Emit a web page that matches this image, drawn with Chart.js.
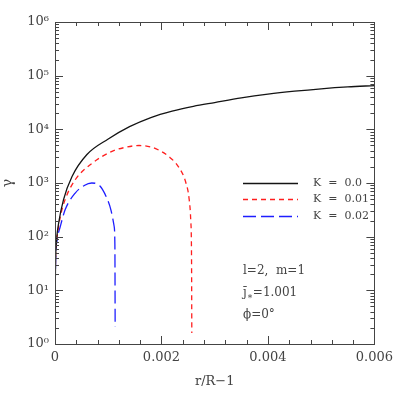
<!DOCTYPE html>
<html>
<head>
<meta charset="utf-8">
<script src="https://cdn.jsdelivr.net/npm/chart.js@4/dist/chart.umd.min.js"></script>
<style>
  html, body { margin: 0; padding: 0; background: #fff; }
</style>
</head>
<body>
<canvas id="myChart" width="399" height="399"></canvas>
<script>
  const kLabels = ['K = 0.0', 'K = 0.01', 'K = 0.02'];

  // K = 0.0
  const xK0 = [0, 0.00001, 0.00003, 0.00007, 0.00016, 0.00032, 0.0006, 0.001, 0.0014, 0.0018,
    0.0022, 0.0026, 0.003, 0.0035, 0.004, 0.0045, 0.005, 0.0055, 0.006];
  const yK0 = [4, 32, 87, 182, 490, 1320, 3390, 6600, 11200, 16600,
    21900, 26900, 31600, 38500, 45200, 51300, 56900, 61700, 65300];

  // K = 0.01
  const xK1 = [0, 0.00001, 0.00004, 0.0001, 0.00019, 0.00038, 0.00069, 0.00106, 0.0013, 0.00158,
    0.0018, 0.00195, 0.00214, 0.00232, 0.00246, 0.00252, 0.00255, 0.002565, 0.00257];
  const yK1 = [6, 40, 100, 236, 490, 1150, 2300, 3850, 4570, 5000,
    4700, 4100, 3100, 2000, 1000, 500, 200, 40, 1.6];

  // K = 0.02
  const xK2 = [0, 0.00001, 0.00004, 0.0001, 0.00019, 0.00038, 0.00055, 0.00069, 0.00084, 0.00096,
    0.00105, 0.00111, 0.001125, 0.00113];
  const yK2 = [2.5, 30, 87, 155, 316, 650, 900, 1000, 890, 562,
    316, 158, 71, 2.1];

  const xTicks = [0, 0.002, 0.004, 0.006];
  const xTickLabels = ['0', '0.002', '0.004', '0.006'];
  const yTicks = [1, 10, 100, 1000, 10000, 100000, 1000000];
  const yTickLabels = ['10\u2070', '10\u00b9', '10\u00b2', '10\u00b3', '10\u2074', '10\u2075', '10\u2076'];

  const ink = '#444';
  const serif = '"DejaVu Serif", serif';

  const pts = (xs, ys) => xs.map((x, i) => ({x: x, y: ys[i]}));

  const data = {
    datasets: [{
      label: kLabels[0],
      data: pts(xK0, yK0),
      borderColor: 'rgb(20, 20, 20)',
      borderWidth: 1.3,
      borderDash: []
    }, {
      label: kLabels[1],
      data: pts(xK1, yK1),
      borderColor: 'rgb(255, 30, 30)',
      borderWidth: 1.3,
      borderDash: [5, 4]
    }, {
      label: kLabels[2],
      data: pts(xK2, yK2),
      borderColor: 'rgb(30, 30, 255)',
      borderWidth: 1.3,
      borderDash: [13, 5]
    }]
  };

  // frame, inward ticks, legend and notes
  const decor = {
    id: 'decor',
    afterDatasetsDraw(chart) {
      const ctx = chart.ctx;
      const a = chart.chartArea;
      const x = chart.scales.x, y = chart.scales.y;
      ctx.save();
      ctx.strokeStyle = ink;
      ctx.lineWidth = 1;
      ctx.setLineDash([]);
      ctx.strokeRect(Math.round(a.left) + 0.5, Math.round(a.top) + 0.5,
        Math.round(a.right - a.left), Math.round(a.bottom - a.top));

      ctx.beginPath();
      for (let i = 0; i <= 15; i++) {
        const px = Math.round(x.getPixelForValue(i * 0.0004)) + 0.5;
        const len = i % 5 === 0 ? 8 : 4;
        ctx.moveTo(px, a.bottom); ctx.lineTo(px, a.bottom - len);
        ctx.moveTo(px, a.top); ctx.lineTo(px, a.top + len);
      }
      for (let k = 0; k <= 6; k++) {
        for (let m = 1; m <= 9; m++) {
          if (k === 6 && m > 1) break;
          const py = Math.round(y.getPixelForValue(m * Math.pow(10, k))) + 0.5;
          const len = m === 1 ? 8 : 4;
          ctx.moveTo(a.left, py); ctx.lineTo(a.left + len, py);
          ctx.moveTo(a.right, py); ctx.lineTo(a.right - len, py);
        }
      }
      ctx.stroke();

      // legend
      ctx.font = '11px ' + serif;
      ctx.fillStyle = ink;
      ctx.textBaseline = 'middle';
      chart.data.datasets.forEach((ds, i) => {
        const ly = Math.round(a.top + 161 + i * 16.3) + 0.5;
        ctx.strokeStyle = ds.borderColor;
        ctx.lineWidth = 1.3;
        ctx.setLineDash(ds.borderDash);
        ctx.beginPath();
        ctx.moveTo(a.left + 188, ly);
        ctx.lineTo(a.left + 243, ly);
        ctx.stroke();
        ctx.fillText(ds.label.replace(' = ', '  =  '), a.left + 258, ly);
      });
      ctx.setLineDash([]);

      // notes
      ctx.font = '12px ' + serif;
      const nx = a.left + 188;
      ctx.fillText('l=2,  m=1', nx, a.top + 249);
      let w = ctx.measureText('j\u0304').width;
      ctx.fillText('j\u0304', nx, a.top + 271);
      ctx.font = '9px ' + serif;
      ctx.fillText('\u2217', nx + w, a.top + 275);
      w += ctx.measureText('\u2217').width;
      ctx.font = '12px ' + serif;
      ctx.fillText('=1.001', nx + w, a.top + 271);
      ctx.fillText('\u03d5=0\u00b0', nx, a.top + 293);
      ctx.restore();
    }
  };

  const config = {
    type: 'line',
    data: data,
    options: {
      responsive: false,
      animation: false,
      layout: {padding: {top: 22, right: 21, left: 0, bottom: 0}},
      elements: {
        point: {radius: 0},
        line: {cubicInterpolationMode: 'monotone', fill: false}
      },
      plugins: {legend: {display: false}, tooltip: {enabled: false}},
      scales: {
        x: {
          type: 'linear',
          min: 0,
          max: 0.006,
          grid: {display: false, drawTicks: false},
          border: {display: false},
          afterBuildTicks: s => { s.ticks = xTicks.map(v => ({value: v})); },
          afterFit: s => { s.height = 55; },
          ticks: {
            padding: 6,
            maxRotation: 0,
            color: ink,
            font: {family: serif, size: 13},
            callback: (v, i) => xTickLabels[i]
          },
          title: {
            display: true,
            text: 'r/R\u22121',
            color: ink,
            font: {family: serif, size: 13},
            padding: {top: 6, bottom: 10}
          }
        },
        y: {
          type: 'logarithmic',
          min: 1,
          max: 1000000,
          grid: {display: false, drawTicks: false},
          border: {display: false},
          afterBuildTicks: s => { s.ticks = yTicks.map(v => ({value: v})); },
          afterFit: s => { s.width = 55; },
          ticks: {
            padding: 6,
            color: ink,
            font: {family: serif, size: 13},
            callback: (v, i) => yTickLabels[i]
          },
          title: {
            display: true,
            text: '\u03b3',
            color: ink,
            font: {family: serif, size: 14},
            padding: 0
          }
        }
      }
    },
    plugins: [decor]
  };

  const myChart = new Chart(
    document.getElementById('myChart'),
    config
  );
</script>
</body>
</html>
